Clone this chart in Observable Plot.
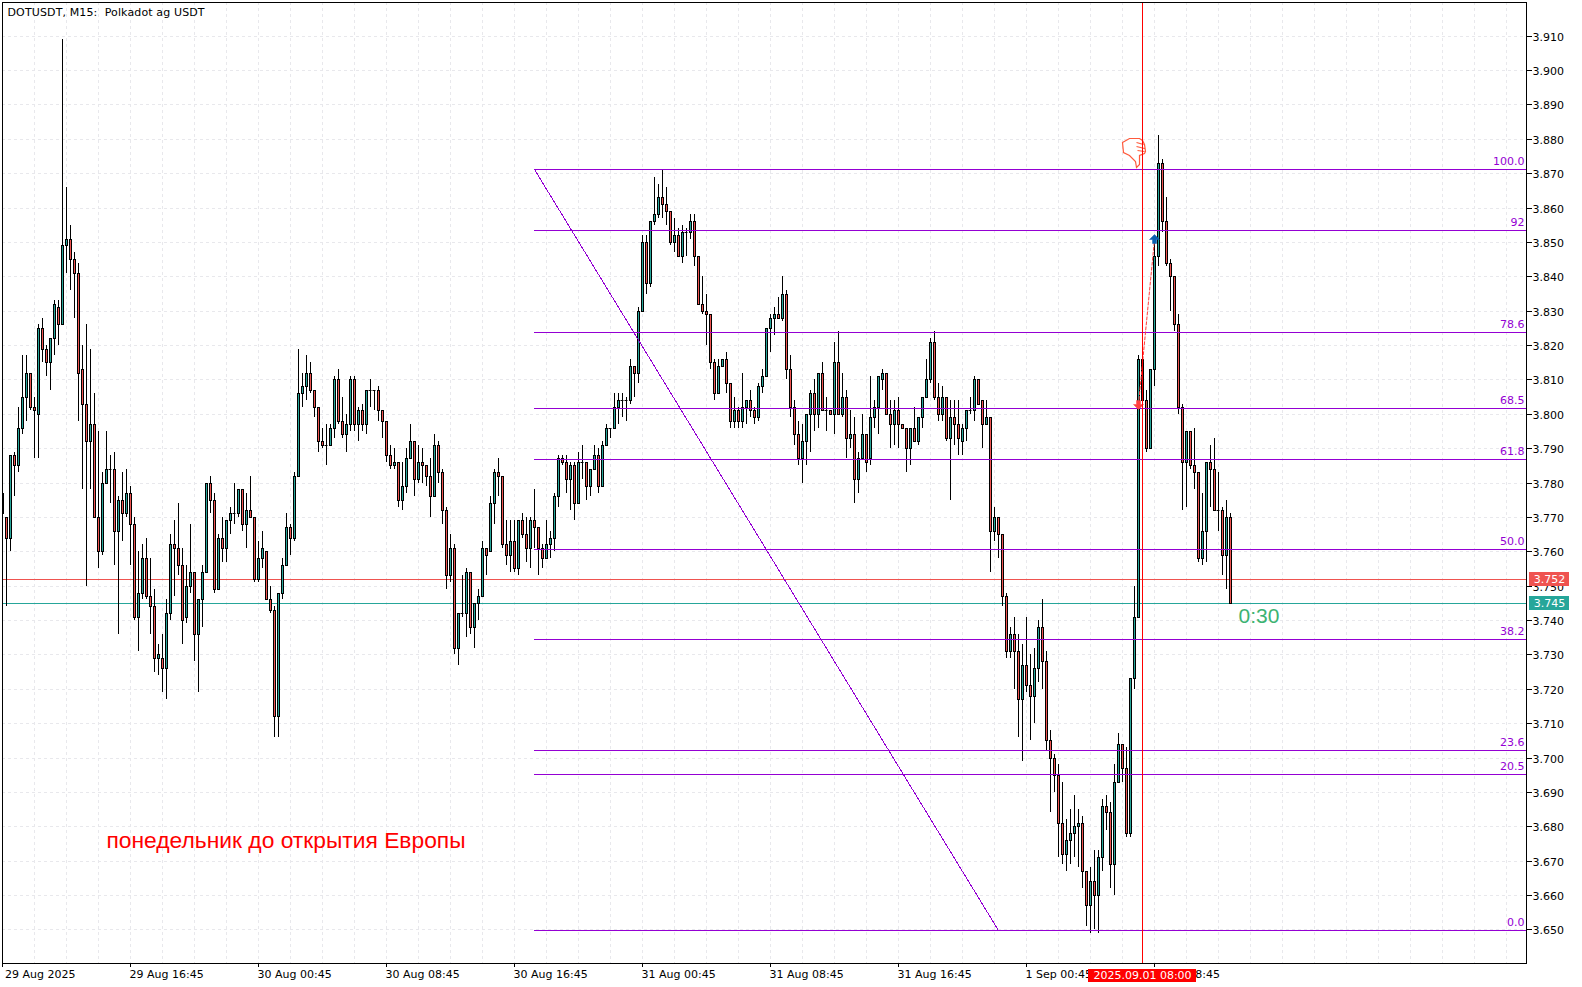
<!DOCTYPE html>
<html>
<head>
<meta charset="utf-8">
<script src="https://cdn.jsdelivr.net/npm/d3@7"></script>
<script src="https://cdn.jsdelivr.net/npm/@observablehq/plot@0.6"></script>
<style>html,body{margin:0;padding:0;background:#fff}svg{display:block}</style>
</head>
<body>
<div id="chart"></div>
<script>
const open = [3.771,
3.770,3.764,3.788,3.785,3.796,3.805,3.812,3.802,3.800,3.825,
3.819,3.815,3.822,3.831,3.826,3.849,3.851,3.845,3.841,3.813,
3.803,3.792,3.797,3.770,3.760,3.780,3.784,3.784,3.766,3.775,
3.771,3.777,3.768,3.741,3.748,3.758,3.747,3.744,3.729,3.729,
3.726,3.742,3.762,3.761,3.756,3.741,3.750,3.754,3.736,3.746,
3.754,3.780,3.775,3.749,3.764,3.761,3.769,3.771,3.771,3.778,
3.768,3.772,3.770,3.752,3.758,3.760,3.746,3.743,3.712,3.748,
3.756,3.767,3.764,3.782,3.806,3.808,3.812,3.807,3.802,3.792,
3.791,3.791,3.796,3.810,3.798,3.794,3.797,3.810,3.797,3.801,
3.797,3.807,3.807,3.807,3.801,3.798,3.788,3.785,3.786,3.775,
3.779,3.787,3.792,3.781,3.786,3.785,3.782,3.776,3.791,3.783,
3.772,3.753,3.761,3.732,3.742,3.742,3.754,3.738,3.745,3.747,
3.761,3.760,3.774,3.783,3.782,3.762,3.759,3.763,3.755,3.769,
3.765,3.761,3.769,3.767,3.761,3.758,3.762,3.764,3.776,3.787,
3.786,3.781,3.785,3.774,3.786,3.786,3.779,3.784,3.788,3.779,
3.791,3.796,3.796,3.802,3.804,3.804,3.804,3.814,3.812,3.830,
3.850,3.838,3.856,3.858,3.863,3.861,3.859,3.850,3.852,3.846,
3.853,3.853,3.856,3.846,3.832,3.830,3.829,3.815,3.806,3.814,
3.816,3.809,3.798,3.801,3.798,3.802,3.804,3.801,3.799,3.808,
3.811,3.825,3.828,3.829,3.828,3.835,3.813,3.802,3.794,3.787,
3.792,3.800,3.806,3.800,3.812,3.801,3.801,3.800,3.815,3.800,
3.805,3.793,3.794,3.781,3.787,3.794,3.787,3.799,3.802,3.810,
3.812,3.800,3.797,3.801,3.797,3.796,3.790,3.796,3.792,3.799,
3.805,3.810,3.821,3.805,3.800,3.805,3.793,3.799,3.797,3.792,
3.796,3.801,3.801,3.810,3.804,3.797,3.799,3.766,3.770,3.765,
3.747,3.731,3.736,3.731,3.717,3.727,3.721,3.718,3.726,3.738,
3.728,3.705,3.700,3.695,3.681,3.672,3.676,3.678,3.680,3.681,
3.667,3.657,3.664,3.660,3.671,3.686,3.684,3.669,3.693,3.704,
3.697,3.678,3.723,3.741,3.816,3.804,3.790,3.813,3.846,3.873,
3.856,3.844,3.840,3.826,3.802,3.786,3.795,3.785,3.783,3.758,
3.766,3.786,3.784,3.772,3.772,3.759,3.770];

const close = [3.777,
3.764,3.788,3.785,3.796,3.805,3.812,3.802,3.801,3.825,3.819,
3.815,3.822,3.832,3.826,3.849,3.851,3.845,3.841,3.812,3.803,
3.792,3.797,3.770,3.760,3.780,3.784,3.784,3.766,3.775,3.771,
3.777,3.768,3.741,3.748,3.758,3.747,3.744,3.729,3.730,3.726,
3.742,3.762,3.761,3.756,3.740,3.750,3.754,3.736,3.746,3.754,
3.780,3.775,3.749,3.764,3.761,3.769,3.771,3.771,3.778,3.768,
3.772,3.770,3.752,3.758,3.761,3.746,3.743,3.712,3.748,3.756,
3.767,3.764,3.782,3.806,3.808,3.812,3.807,3.802,3.792,3.791,
3.791,3.796,3.810,3.798,3.794,3.797,3.810,3.797,3.801,3.797,
3.807,3.807,3.807,3.801,3.798,3.788,3.785,3.786,3.775,3.779,
3.787,3.792,3.781,3.786,3.785,3.782,3.776,3.791,3.783,3.772,
3.753,3.761,3.732,3.742,3.742,3.754,3.738,3.745,3.747,3.761,
3.759,3.774,3.783,3.782,3.762,3.759,3.763,3.755,3.769,3.765,
3.761,3.769,3.767,3.761,3.758,3.762,3.764,3.776,3.787,3.786,
3.781,3.785,3.774,3.786,3.786,3.779,3.784,3.788,3.779,3.791,
3.796,3.796,3.802,3.804,3.804,3.804,3.814,3.812,3.830,3.850,
3.838,3.856,3.858,3.863,3.861,3.859,3.850,3.852,3.846,3.853,
3.853,3.856,3.846,3.832,3.830,3.829,3.815,3.806,3.814,3.816,
3.809,3.798,3.801,3.798,3.802,3.804,3.801,3.799,3.808,3.811,
3.825,3.828,3.829,3.828,3.835,3.813,3.802,3.794,3.787,3.792,
3.800,3.806,3.800,3.812,3.801,3.801,3.800,3.815,3.800,3.805,
3.793,3.794,3.781,3.787,3.794,3.786,3.799,3.802,3.811,3.812,
3.800,3.797,3.801,3.797,3.796,3.790,3.796,3.792,3.799,3.805,
3.810,3.821,3.805,3.800,3.805,3.793,3.799,3.797,3.793,3.796,
3.801,3.801,3.810,3.803,3.797,3.799,3.766,3.770,3.765,3.747,
3.731,3.736,3.731,3.717,3.727,3.721,3.718,3.726,3.738,3.728,
3.705,3.700,3.695,3.681,3.672,3.676,3.678,3.680,3.681,3.667,
3.657,3.664,3.660,3.671,3.686,3.684,3.669,3.693,3.704,3.697,
3.678,3.723,3.741,3.816,3.804,3.790,3.813,3.846,3.873,3.856,
3.844,3.840,3.826,3.802,3.786,3.795,3.785,3.783,3.758,3.766,
3.786,3.784,3.772,3.772,3.759,3.770,3.745];

const high = [3.782,
3.770,3.788,3.789,3.802,3.817,3.817,3.812,3.805,3.826,3.828,
3.820,3.822,3.833,3.833,3.909,3.866,3.855,3.847,3.844,3.820,
3.826,3.819,3.806,3.795,3.783,3.795,3.788,3.789,3.776,3.783,
3.784,3.779,3.770,3.760,3.762,3.764,3.758,3.749,3.733,3.736,
3.746,3.765,3.769,3.774,3.761,3.756,3.768,3.754,3.746,3.756,
3.780,3.782,3.777,3.765,3.770,3.769,3.773,3.780,3.778,3.778,
3.777,3.782,3.770,3.763,3.766,3.760,3.750,3.744,3.748,3.758,
3.771,3.768,3.783,3.819,3.812,3.817,3.815,3.807,3.802,3.796,
3.797,3.797,3.811,3.813,3.805,3.800,3.811,3.811,3.802,3.803,
3.807,3.810,3.807,3.808,3.801,3.798,3.791,3.790,3.786,3.786,
3.790,3.797,3.792,3.791,3.790,3.785,3.787,3.794,3.792,3.784,
3.773,3.765,3.762,3.742,3.753,3.755,3.754,3.745,3.749,3.763,
3.761,3.776,3.784,3.787,3.782,3.769,3.769,3.769,3.769,3.771,
3.770,3.770,3.778,3.767,3.762,3.769,3.766,3.777,3.788,3.788,
3.788,3.786,3.786,3.789,3.791,3.786,3.784,3.791,3.790,3.792,
3.797,3.796,3.806,3.806,3.806,3.805,3.816,3.814,3.831,3.852,
3.852,3.856,3.869,3.867,3.871,3.866,3.859,3.857,3.854,3.855,
3.854,3.858,3.858,3.846,3.840,3.835,3.829,3.816,3.816,3.816,
3.818,3.809,3.805,3.802,3.812,3.804,3.807,3.802,3.809,3.813,
3.825,3.829,3.831,3.834,3.840,3.836,3.817,3.804,3.798,3.797,
3.800,3.807,3.810,3.812,3.815,3.805,3.801,3.821,3.824,3.812,
3.807,3.801,3.799,3.789,3.800,3.794,3.811,3.804,3.811,3.813,
3.812,3.804,3.804,3.805,3.797,3.796,3.796,3.802,3.799,3.805,
3.816,3.822,3.824,3.809,3.808,3.805,3.804,3.804,3.804,3.797,
3.801,3.805,3.811,3.810,3.804,3.804,3.799,3.773,3.770,3.765,
3.748,3.738,3.741,3.736,3.733,3.741,3.730,3.732,3.740,3.746,
3.731,3.708,3.701,3.698,3.693,3.682,3.685,3.689,3.685,3.683,
3.667,3.668,3.673,3.673,3.688,3.689,3.687,3.698,3.707,3.704,
3.703,3.723,3.750,3.817,3.816,3.807,3.813,3.851,3.881,3.874,
3.863,3.845,3.840,3.829,3.803,3.795,3.795,3.796,3.783,3.777,
3.786,3.791,3.793,3.783,3.773,3.775,3.771];

const low = [3.770,
3.744,3.760,3.776,3.783,3.794,3.798,3.801,3.787,3.787,3.815,
3.811,3.807,3.817,3.820,3.826,3.841,3.836,3.828,3.798,3.778,
3.750,3.778,3.770,3.755,3.759,3.780,3.774,3.756,3.736,3.763,
3.770,3.756,3.740,3.731,3.746,3.746,3.736,3.725,3.724,3.719,
3.717,3.740,3.747,3.753,3.733,3.739,3.748,3.728,3.719,3.738,
3.754,3.771,3.748,3.749,3.757,3.757,3.765,3.768,3.770,3.766,
3.761,3.770,3.751,3.751,3.755,3.746,3.742,3.706,3.706,3.746,
3.756,3.759,3.763,3.782,3.802,3.804,3.806,3.799,3.789,3.790,
3.785,3.791,3.793,3.797,3.793,3.789,3.795,3.795,3.792,3.795,
3.794,3.802,3.801,3.798,3.793,3.786,3.784,3.784,3.773,3.772,
3.777,3.787,3.776,3.780,3.780,3.779,3.770,3.776,3.780,3.768,
3.749,3.751,3.730,3.727,3.741,3.735,3.736,3.732,3.740,3.747,
3.753,3.760,3.768,3.776,3.761,3.756,3.754,3.754,3.753,3.764,
3.757,3.755,3.761,3.753,3.755,3.758,3.758,3.760,3.773,3.785,
3.777,3.772,3.769,3.774,3.781,3.775,3.776,3.784,3.777,3.779,
3.791,3.793,3.796,3.797,3.799,3.798,3.803,3.805,3.809,3.830,
3.835,3.837,3.855,3.857,3.857,3.855,3.849,3.847,3.846,3.844,
3.846,3.851,3.843,3.832,3.829,3.820,3.813,3.804,3.806,3.814,
3.806,3.796,3.796,3.796,3.796,3.797,3.799,3.797,3.798,3.806,
3.811,3.818,3.823,3.828,3.827,3.810,3.799,3.791,3.785,3.780,
3.785,3.789,3.795,3.796,3.801,3.795,3.800,3.794,3.800,3.799,
3.787,3.790,3.774,3.777,3.787,3.783,3.785,3.796,3.794,3.807,
3.800,3.790,3.791,3.790,3.796,3.783,3.785,3.792,3.791,3.796,
3.805,3.809,3.804,3.798,3.798,3.792,3.775,3.791,3.788,3.788,
3.792,3.800,3.798,3.803,3.790,3.797,3.754,3.763,3.758,3.744,
3.729,3.729,3.720,3.706,3.699,3.719,3.705,3.710,3.722,3.720,
3.702,3.684,3.690,3.671,3.669,3.667,3.669,3.671,3.668,3.662,
3.651,3.649,3.650,3.649,3.667,3.679,3.662,3.660,3.693,3.693,
3.677,3.677,3.720,3.741,3.804,3.789,3.790,3.808,3.843,3.853,
3.843,3.830,3.824,3.800,3.772,3.773,3.784,3.778,3.757,3.756,
3.757,3.773,3.772,3.766,3.753,3.749,3.745];

const fibLabels = ["100.0","92","78.6","68.5","61.8","50.0","38.2","23.6","20.5","0.0"];
const fibPrices = [3.8711,3.8534,3.8237,3.8018,3.7868,3.7607,3.7346,3.7023,3.6951,3.6497];
const yTicks = [3.65,3.66,3.67,3.68,3.69,3.70,3.71,3.72,3.73,3.74,3.75,3.76,3.77,3.78,3.79,3.80,3.81,3.82,3.83,3.84,3.85,3.86,3.87,3.88,3.89,3.90,3.91];
const xTicks = [-1,31,63,95,127,159,191,223,255,287];
const xLabels = [" 29 Aug 2025","29 Aug 16:45","30 Aug 00:45","30 Aug 08:45","30 Aug 16:45","31 Aug 00:45","31 Aug 08:45","31 Aug 16:45","1 Sep 00:45","1 Sep 08:45"];
const xGrid = d3.range(7, 380, 8);
const askPrice = 3.752, bidPrice = 3.745;
const fibStart = 132, diagEnd = 248, cursorBar = 284, lastScale = 380;
const yDomain = [3.64021, 3.91982];

const candles = open.map((o, j) => ({i: j - 1, o, c: close[j], h: high[j], l: low[j]}));
const bodies = candles.filter(d => d.o !== d.c);
const dojis = candles.filter(d => d.o === d.c);
const fibs = fibPrices.map((p, k) => ({p, label: fibLabels[k]}));
const VIOLET = "#9400d3", TEAL = "#26a69a", RED = "#ef5350";

const handSymbol = {draw(c) {
  c.moveTo(-11,-10); c.lineTo(-4,-14); c.lineTo(6,-14); c.lineTo(9,-12); c.lineTo(11,-8); c.lineTo(12,-1);
  c.lineTo(11,1); c.lineTo(6,3); c.lineTo(6,12); c.lineTo(3,15); c.lineTo(2,9); c.lineTo(-4,3); c.lineTo(-10,0); c.closePath();
  c.moveTo(3,-10); c.lineTo(10,-8); c.moveTo(3,-6); c.lineTo(11,-4); c.moveTo(4,-2); c.lineTo(11,-1);
}};
const upArrow = {draw(c) {
  c.moveTo(0,-5); c.lineTo(5,0); c.lineTo(2,0); c.lineTo(2,4); c.lineTo(-2,4); c.lineTo(-2,0); c.lineTo(-5,0); c.closePath();
}};
const downArrow = {draw(c) {
  c.moveTo(0,5); c.lineTo(5,0); c.lineTo(2,0); c.lineTo(2,-4); c.lineTo(-2,-4); c.lineTo(-2,0); c.lineTo(-5,0); c.closePath();
}};

const chart = Plot.plot({
  width: 1582, height: 987,
  marginTop: 2, marginLeft: 2, marginRight: 56, marginBottom: 24,
  x: {domain: [-1, lastScale], range: [2, 1526], round: true, axis: null},
  y: {domain: yDomain, range: [963, 2], round: true, axis: null},
  style: {fontFamily: "'DejaVu Sans'", fontSize: "11px", background: "#fff", color: "#000"},
  marks: [
    Plot.gridX(xGrid, {stroke: "#e8e8ec", strokeOpacity: 1, strokeDasharray: "3,3"}),
    Plot.gridY(yTicks, {stroke: "#e8e8ec", strokeOpacity: 1, strokeDasharray: "3,3"}),
    Plot.ruleY([askPrice], {stroke: RED}),
    Plot.ruleY([bidPrice], {stroke: TEAL}),
    Plot.ruleX(candles, {x: "i", y1: "l", y2: "h", stroke: "#000", clip: "frame"}),
    Plot.rect(bodies, {x1: d => d.i - 0.25, x2: d => d.i + 0.25, y1: "o", y2: "c", dx: 0.5, dy: 0.5, stroke: "#000",
      fill: d => d.c > d.o ? TEAL : RED, clip: "frame"}),
    Plot.ruleY(dojis, {y: "c", x1: d => d.i - 0.25, x2: d => d.i + 0.25, stroke: "#000", strokeLinecap: "square"}),
    Plot.ruleY(fibs, {y: "p", x1: fibStart, x2: lastScale, stroke: VIOLET}),
    Plot.line([{x: fibStart, y: fibPrices[0]}, {x: diagEnd, y: fibPrices[9]}], {x: "x", y: "y", stroke: VIOLET, strokeWidth: 1, shapeRendering: "crispEdges"}),
    Plot.text(fibs, {x: lastScale, y: "p", text: "label", textAnchor: "end", dx: -2, dy: -8, fill: VIOLET}),
    Plot.line([{x: 283, y: 3.803}, {x: 287, y: 3.851}], {x: "x", y: "y", stroke: "#ff3b3b", strokeWidth: 1, strokeDasharray: "3,2"}),
    Plot.dot([{x: 283, y: 3.803}], {x: "x", y: "y", symbol: downArrow, r: 3, fill: "#ff4040", stroke: "#ff4040", strokeWidth: 0.5}),
    Plot.dot([{x: 287, y: 3.851}], {x: "x", y: "y", symbol: upArrow, r: 3, fill: "#0a5fb0", stroke: "#0a5fb0", strokeWidth: 0.5}),
    Plot.dot([{x: 281.75, y: 3.8762}], {x: "x", y: "y", symbol: handSymbol, r: 3, fill: "#fff", stroke: "#ff5a3c", strokeWidth: 1.2}),
    Plot.ruleX([cursorBar], {stroke: "#ff0000"}),
    Plot.frame({stroke: "#000"}),
    Plot.axisY(yTicks, {anchor: "right", tickSize: 5, text: null, label: null, stroke: "#000"}),
    Plot.axisY(yTicks, {anchor: "right", tickSize: 0, tickPadding: 6, dy: 1, tickFormat: ".3f", label: null}),
    Plot.axisX({anchor: "bottom", ticks: xTicks, tickSize: 4, text: null, label: null}),
    Plot.axisX({anchor: "bottom", ticks: xTicks, tickSize: 0, tickPadding: 7, dx: -1, textAnchor: "start", label: null,
      tickFormat: i => xLabels[xTicks.indexOf(i)]}),
    Plot.rect([askPrice], {x1: lastScale, x2: lastScale, y1: d => d, y2: d => d, insetLeft: 3, insetRight: -43, insetTop: -7, insetBottom: -7, fill: RED}),
    Plot.rect([bidPrice], {x1: lastScale, x2: lastScale, y1: d => d, y2: d => d, insetLeft: 3, insetRight: -43, insetTop: -7, insetBottom: -7, fill: TEAL}),
    Plot.text([askPrice], {x: lastScale, y: d => d, dx: 23, text: d => d.toFixed(3), fill: "#fff"}),
    Plot.text([bidPrice], {x: lastScale, y: d => d, dx: 23, text: d => d.toFixed(3), fill: "#fff"}),
    Plot.rect([yDomain[0]], {x1: cursorBar, x2: cursorBar, y1: d => d, y2: d => d, insetLeft: -54, insetRight: -54, insetTop: 6, insetBottom: -19, fill: "#ff0000"}),
    Plot.text([yDomain[0]], {x: cursorBar, y: d => d, dy: 12, text: () => "2025.09.01 08:00", fill: "#fff"}),
    Plot.text(["0:30"], {x: 308, y: 3.7412, text: d => d, textAnchor: "start", fill: "#3cb371", fontSize: 21, fontFamily: "'Liberation Sans'"}),
    Plot.text(["понедельник до открытия Европы"], {x: 25, y: 3.676, text: d => d, textAnchor: "start", fill: "#ff0000", fontSize: 22.8, fontFamily: "'Liberation Sans'"}),
    Plot.text(["DOTUSDT, M15:  Polkadot ag USDT"], {frameAnchor: "top-left", dx: 5, dy: 6, text: d => d, fill: "#000", lineAnchor: "top"})
  ]
});
d3.select(chart).selectAll("text").filter(function() { return this.textContent.startsWith("DOTUSDT"); }).attr("letter-spacing", 0.13);
document.getElementById("chart").append(chart);
</script>
</body>
</html>
